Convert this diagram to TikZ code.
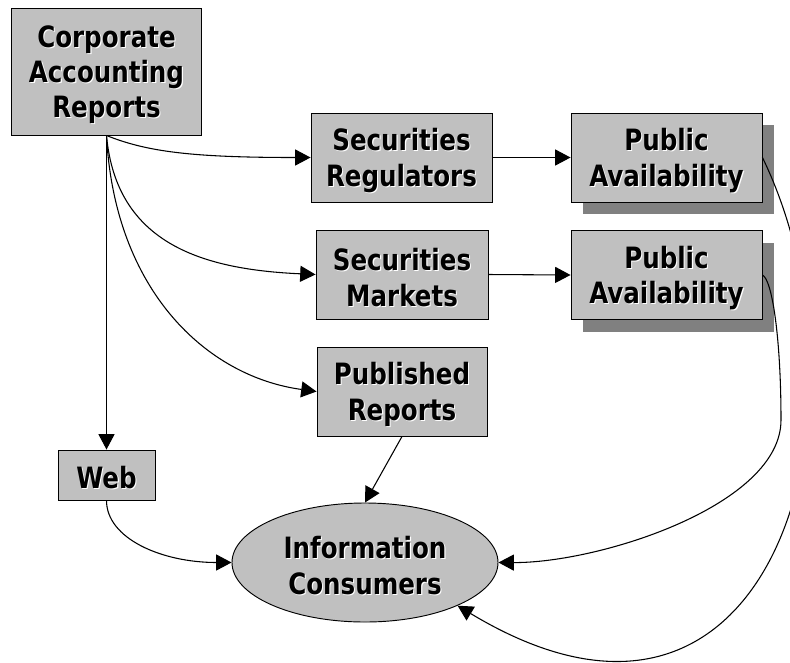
\documentclass[tikz,border=0pt]{standalone}
\usepackage{fontspec}
\setmainfont{DejaVu Sans Condensed}[FakeStretch=0.93]
\usetikzlibrary{shapes.geometric,shadows,arrows.meta}
\definecolor{boxgray}{HTML}{C0C0C0}
\definecolor{shadowgray}{HTML}{808080}
\newcommand\lift[1]{\raisebox{-2.6pt}[\height][\depth]{\rlap{\kern0.8pt\raisebox{-0.8pt}{\color{white}#1}}#1}}
\tikzset{
	box/.style={draw=black, fill=boxgray, line width=0.7pt, inner sep=0pt, align=center,
		font=\bfseries\fontsize{22}{26.5}\selectfont},
	shadowbox/.style={box, drop shadow={shadow xshift=9pt, shadow yshift=-9pt, fill=shadowgray, opacity=1}},
	link/.style={line width=0.8pt, -{Triangle[length=11.5pt,width=12pt]}}
}

\begin{document}
\begin{tikzpicture}[x=0.75pt, y=-0.75pt]
	\useasboundingbox (0,0) rectangle (790,662);
	% boxes
	\node[box, minimum width=142.5pt, minimum height=95pt] (car) at (106.5,71.7) {\lift{Corporate}\\\lift{Accounting}\\\lift{Reports}};
	\node[box, minimum width=135.75pt, minimum height=66.75pt] (sr) at (401.5,157.5) {\lift{Securities}\\\lift{Regulators}};
	\node[box, minimum width=129pt, minimum height=66.75pt] (sm) at (402,274.5) {\lift{Securities}\\\lift{Markets}};
	\node[box, minimum width=127.5pt, minimum height=66.75pt] (pr) at (402,391.5) {\lift{Published}\\\lift{Reports}};
	\node[shadowbox, minimum width=143.25pt, minimum height=66.75pt] (pa1) at (666.5,157.5) {\lift{Public}\\\lift{Availability}};
	\node[shadowbox, minimum width=143.25pt, minimum height=66.75pt] (pa2) at (666.5,275) {\lift{Public}\\\lift{Availability}};
	\node[box, minimum width=72.75pt, minimum height=37.5pt] (web) at (106.5,475) {\lift{Web}};
	\node[box, ellipse, minimum width=199.5pt, minimum height=89.25pt] (ic) at (365,562.5) {\lift{Information}\\\lift{Consumers}};
	% links
	\draw[link] (car.south) -- (web.north);
	\draw[link] (car.south) .. controls +(40,16) and +(-120,0) .. (sr.west);
	\draw[link] (car.south) .. controls +(10,110) and +(-110,-5) .. (sm.west);
	\draw[link] (car.south) .. controls +(8,155) and +(-110,-15) .. (pr.west);
	\draw[link] (sr.east) -- (pa1.west);
	\draw[link] (sm.east) -- (pa2.west);
	\draw[link] (pr.south) -- (ic.north);
	\draw[link] (web.south) .. controls +(0,38) and +(-70,0) .. (ic.west);
	\draw[link] (pa2.east) .. controls +(10,5) and (781,340) .. (781,420) .. controls (781,505) and (600,563) .. (ic.east);
	\draw[link] (pa1.east) .. controls (880,400) and (780,800) .. (ic.-25);
\end{tikzpicture}
\end{document}
